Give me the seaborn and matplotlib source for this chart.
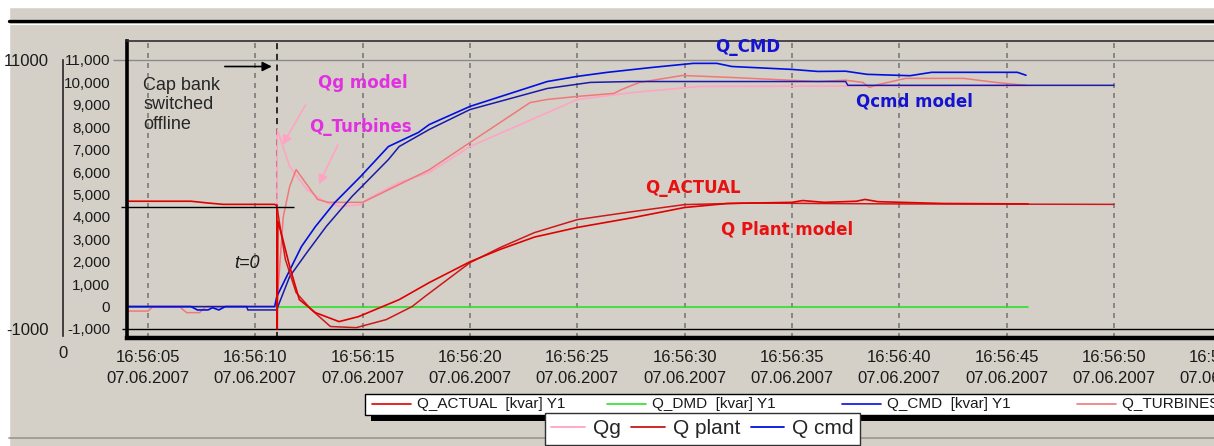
import numpy as np
import pandas as pd
import matplotlib
matplotlib.use("Agg")
import matplotlib.pyplot as plt
import seaborn as sns
from matplotlib.patches import Rectangle
from matplotlib.lines import Line2D
from matplotlib.ticker import FuncFormatter, MultipleLocator

# time axis: seconds after 16:56:00 on 07.06.2007
tick_sec = [5, 10, 15, 20, 25, 30, 35, 40, 45, 50, 55]
tick_time = ["16:56:05", "16:56:10", "16:56:15", "16:56:20", "16:56:25", "16:56:30",
             "16:56:35", "16:56:40", "16:56:45", "16:56:50", "16:56:55"]
tick_date = "07.06.2007"
t_switch = 11.0
baseline_q = 4460

# measured Q_ACTUAL [kvar]
t_actual = [4.0, 7.0, 7.8, 8.5, 10.9, 11.0, 11.02, 11.05, 11.25, 11.6, 12.05, 12.8, 13.9,
            14.8, 16.7, 18.1, 20.0, 21.4, 23.0, 25.0, 27.6, 30.0, 32.0, 35.0, 35.5, 36.5,
            38.0, 38.4, 39.0, 42.0, 46.0]
q_actual = [4700, 4700, 4620, 4560, 4560, 4500, -1000, 3800, 3120, 1790, 310, -270, -670,
            -450, 310, 1070, 2000, 2550, 3100, 3530, 3970, 4420, 4600, 4650, 4730, 4650,
            4700, 4780, 4680, 4600, 4580]

# Q plant model
t_plant = [11.0, 11.1, 11.4, 11.9, 12.6, 13.5, 14.7, 16.1, 17.3, 17.9, 20.0, 21.4, 23.0,
           25.0, 27.6, 30.0, 33.0, 36.0, 40.0, 50.0]
q_plant = [4550, 3880, 2100, 625, -130, -890, -940, -580, 0, 450, 1960, 2630, 3300,
           3880, 4240, 4550, 4620, 4600, 4580, 4560]

# Q_DMD
t_dmd = [4.0, 46.0]
q_dmd = [0, 0]

# measured Q_CMD
t_cmd = [4.0, 7.0, 7.3, 7.8, 8.0, 8.3, 8.6, 10.9, 11.0, 11.55, 12.15, 12.8, 13.7, 14.9,
         16.2, 17.6, 18.1, 20.0, 23.6, 25.0, 26.4, 28.5, 30.4, 31.5, 32.2, 35.0, 36.2,
         37.5, 38.5, 40.5, 41.5, 45.5, 45.9]
q_cmd = [0, 0, -150, -150, -50, -150, 0, 0, 450, 1520, 2680, 3570, 4640, 5800,
         7140, 7770, 8120, 8930, 10040, 10270, 10450, 10670, 10850, 10850, 10710, 10580, 10490,
         10500, 10360, 10300, 10450, 10450, 10320]

# Qcmd model
t_cmd_model = [4.0, 9.6, 9.65, 11.0, 11.05, 11.6, 12.4, 13.3, 14.5, 16.2, 16.7, 18.1, 20.0,
               23.6, 25.6, 27.5, 37.5, 37.6, 50.0]
q_cmd_model = [0, 0, -150, -150, 0, 1340, 2410, 3570, 4910, 6560, 7140, 7900, 8790,
               9730, 10000, 10040, 10040, 9870, 9870]

# measured Q_TURBINES
t_turb = [4.0, 5.0, 5.2, 6.5, 6.8, 7.4, 7.7, 10.9, 11.0, 11.3, 11.6, 11.9, 12.9, 13.4,
          15.0, 18.1, 20.0, 22.8, 23.6, 25.0, 26.7, 27.1, 27.9, 29.9, 32.2, 36.2, 37.5,
          38.3, 38.6, 39.0, 40.3, 43.0, 44.5, 45.9]
q_turb = [-200, -200, -30, -30, -270, -270, 0, 0, 0, 4000, 5360, 6110, 4780, 4650,
          4650, 6100, 7320, 9100, 9240, 9375, 9510, 9700, 10000, 10310, 10220, 10040, 10100,
          10000, 9780, 9900, 10180, 10180, 10000, 9870]

# Qg model
t_qg = [4.0, 11.0, 11.02, 11.6, 12.4, 13.3, 14.0, 14.9, 15.2, 16.7, 18.1, 20.0, 25.0,
        27.6, 30.7, 46.0]
q_qg = [0, 0, 7900, 6250, 5220, 4640, 4460, 4550, 4780, 5535, 5980, 7140, 9240,
        9550, 9820, 9860]

legend_main = ["Q_ACTUAL  [kvar] Y1", "Q_DMD  [kvar] Y1", "Q_CMD  [kvar] Y1",
               "Q_TURBINES  [kvar] Y1"]
legend_model = ["Qg", "Q plant", "Q cmd"]

BG = "#d4d0c8"
RED = "#e00000"
RED_M = "#cc1818"
BLUE = "#0010e0"
BLUE_M = "#1a1aa8"
GREEN = "#30e030"
SALMON = "#f07878"
PINK = "#ffa4c4"

sns.set_style("white")
plt.rcParams['font.family'] = ['Liberation Sans', 'DejaVu Sans']

W, H = 1214, 446
fig = plt.figure(figsize=(W / 100, H / 100), dpi=100, facecolor=BG)


def fx(px):
    return px / W


def fy(py):
    return 1 - py / H


# window decoration
fig.add_artist(Rectangle((0, fy(7)), 1, 7 / H, transform=fig.transFigure, color="white", zorder=0))
fig.add_artist(Rectangle((0, 0), fx(9), 1, transform=fig.transFigure, color="white", zorder=0))
fig.add_artist(Line2D([fx(9), 1], [fy(20.5), fy(20.5)], transform=fig.transFigure, color="black", lw=2.4))
fig.add_artist(Line2D([fx(9), 1], [fy(23.5), fy(23.5)], transform=fig.transFigure, color="white", lw=0.8))
fig.add_artist(Line2D([fx(9), 1], [fy(438), fy(438)], transform=fig.transFigure, color="#9a968e", lw=1.2))

# main axes
x_left, x_right = 127, 1300
y_top, y_bot = 41, 338
ax = fig.add_axes([fx(x_left), fy(y_bot), (x_right - x_left) / W, (y_bot - y_top) / H])
ax.set_facecolor(BG)
pps = (1114 - 148) / 45.0
ax.set_xlim(5 - (148 - x_left) / pps, 5 + (x_right - 148) / pps)
ppk = (329 - 60) / 12000.0
ax.set_ylim(-1000 - (y_bot - 329) / ppk, 11000 + (60 - y_top) / ppk)

ax.grid(axis="x", color="#7a7a7a", ls=(0, (3, 3)), lw=1.2)
ax.hlines(11000, 3.37, 60, color="#8a8a8a", lw=1.0, clip_on=False, zorder=1)
ax.hlines(-1000, 3.8, 60, color="black", lw=1.0, clip_on=False, zorder=1)
ax.axvline(t_switch, color="black", ls=(0, (4, 3)), lw=1.1, zorder=1)
ax.hlines(baseline_q, 3.75, 11.8, color="black", lw=1.0, clip_on=False, zorder=4)

sns.lineplot(x=t_dmd, y=q_dmd, ax=ax, color=GREEN, lw=1.2, sort=False, estimator=None)
sns.lineplot(x=t_qg, y=q_qg, ax=ax, color=PINK, lw=1.2, sort=False, estimator=None)
sns.lineplot(x=t_turb, y=q_turb, ax=ax, color=SALMON, lw=1.1, sort=False, estimator=None)
sns.lineplot(x=t_cmd_model, y=q_cmd_model, ax=ax, color=BLUE_M, lw=1.1, sort=False, estimator=None)
sns.lineplot(x=t_cmd, y=q_cmd, ax=ax, color=BLUE, lw=1.2, sort=False, estimator=None)
sns.lineplot(x=t_plant, y=q_plant, ax=ax, color=RED_M, lw=1.1, sort=False, estimator=None)
sns.lineplot(x=t_actual, y=q_actual, ax=ax, color=RED, lw=1.2, sort=False, estimator=None)

ax.spines["right"].set_visible(False)
ax.spines["left"].set_linewidth(2.6)
ax.spines["left"].set_color("black")
ax.spines["bottom"].set_linewidth(3.2)
ax.spines["bottom"].set_color("black")
ax.spines["top"].set_linewidth(1.2)
ax.spines["top"].set_color("#303030")

ax.set_xticks(tick_sec)
ax.set_xticklabels([f"{tm}\n{tick_date}" for tm in tick_time], fontsize=12,
                   linespacing=1.45, color="#1a1a1a")
ax.xaxis.set_minor_locator(MultipleLocator(1.25))
ax.tick_params(axis="x", which="both", direction="out", length=4, width=1, color="#777777", pad=5)

ax.set_yticks(range(-1000, 11001, 1000))
ax.yaxis.set_major_formatter(FuncFormatter(lambda v, p: f"{int(v):,}"))
ax.yaxis.set_minor_locator(MultipleLocator(250))
ax.tick_params(axis="y", which="major", direction="out", length=5, width=1, color="black",
               labelsize=11, labelcolor="#1a1a1a", pad=7)
ax.tick_params(axis="y", which="minor", direction="out", length=2.5, width=0.8, color="#333333")
ax.set_xlabel("")
ax.set_ylabel("")

# outer scale
ax2 = fig.add_axes([fx(63), fy(y_bot), 0.0005, (y_bot - y_top) / H])
ax2.set_facecolor("none")
ax2.set_ylim(ax.get_ylim())
for s in ["right", "top", "bottom"]:
    ax2.spines[s].set_visible(False)
ax2.spines["left"].set_bounds(-1300, 11000)
ax2.spines["left"].set_linewidth(1.2)
ax2.set_xticks([])
ax2.set_yticks([-1000, 11000])
ax2.set_yticklabels(["-1000", "11000"])
ax2.tick_params(axis="y", direction="inout", length=10, width=1, labelsize=12,
                labelcolor="#1a1a1a", pad=5)
fig.text(fx(63), fy(353), "0", ha="center", va="center", fontsize=12, color="#1a1a1a")

# annotations
ax.text(4.77, 10250, "Cap bank\nswitched\noffline", fontsize=13, color="#262626",
        va="top", ha="left", linespacing=1.2)
ax.annotate("", xy=(10.9, 10710), xytext=(8.45, 10710),
            arrowprops=dict(arrowstyle="-|>", color="black", lw=1.2, mutation_scale=14))
ax.text(9.0, 1920, "t=0", fontsize=13, style="italic", color="#1a1a1a", va="center")

bold = dict(fontweight="bold", fontsize=12, family="DejaVu Sans", va="center", ha="left")
ax.text(12.9, 9955, "Qg model", color="#e030e0", **bold)
ax.text(12.5, 8030, "Q_Turbines", color="#e030e0", **bold)
ax.annotate("", xy=(11.2, 7100), xytext=(12.4, 9100),
            arrowprops=dict(arrowstyle="-|>", color=PINK, lw=1.2, mutation_scale=14))
ax.annotate("", xy=(12.9, 5350), xytext=(13.9, 7320),
            arrowprops=dict(arrowstyle="-|>", color=PINK, lw=1.2, mutation_scale=14))
ax.text(31.4, 11560, "Q_CMD", color="#1414d0", **bold)
ax.text(38.0, 9150, "Qcmd model", color="#1414d0", **bold)
ax.text(28.15, 5270, "Q_ACTUAL", color="#e81010", **bold)
ax.text(31.7, 3440, "Q Plant model", color="#e81010", **bold)

# measurement legend, drawn like the original trend window
fig.add_artist(Rectangle((fx(371), fy(421)), (1240 - 371) / W, 27 / H, transform=fig.transFigure,
                         facecolor="black", edgecolor="none", zorder=1))
fig.add_artist(Rectangle((fx(365), fy(415)), (1240 - 365) / W, 21 / H, transform=fig.transFigure,
                         facecolor="white", edgecolor="black", lw=1, zorder=1))
for i, (lab, col) in enumerate(zip(legend_main, [RED, GREEN, BLUE, SALMON])):
    x0 = 372 + 235 * i
    fig.add_artist(Line2D([fx(x0), fx(x0 + 39)], [fy(404), fy(404)], transform=fig.transFigure,
                          color=col, lw=1.2, zorder=2))
    fig.text(fx(x0 + 45), fy(404), lab, fontsize=11, va="center", ha="left", color="#1a1a1a", zorder=3)

# model legend
handles = [Line2D([], [], color=PINK, lw=1.3), Line2D([], [], color=RED_M, lw=1.3),
           Line2D([], [], color=BLUE, lw=1.3)]
leg = fig.legend(handles, legend_model, loc="upper left", bbox_to_anchor=(fx(545), fy(413)),
                 ncol=3, fontsize=15, frameon=True, fancybox=False, edgecolor="#303030",
                 handlelength=1.6, handletextpad=0.4, columnspacing=0.5, borderpad=0.3,
                 borderaxespad=0)
leg.get_frame().set_linewidth(1.0)
leg.get_frame().set_alpha(1)

fig.savefig("out.png", dpi=100, facecolor=BG)
